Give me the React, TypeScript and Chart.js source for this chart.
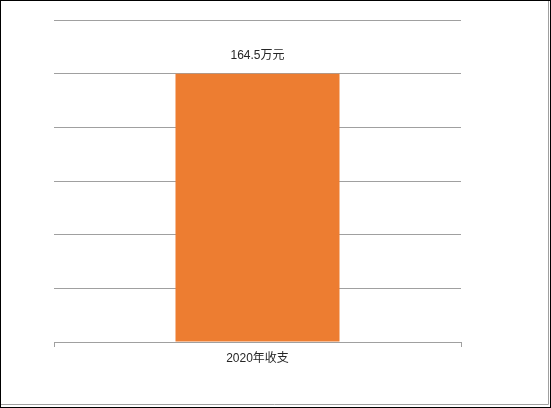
import React, { useEffect, useRef } from "react";
import { Chart, registerables } from "chart.js";

Chart.register(...registerables);

const categories: string[] = ["2020年收支"];
const values: number[] = [164.5];
const valueLabels: string[] = ["164.5万元"];
const yMax = 197.4;
const yStep = 32.9;

const FONT = "'Liberation Sans', 'Noto Sans CJK SC', sans-serif";

const framePlugin = {
  id: "frame",
  afterDraw(chart: any) {
    const ctx = chart.ctx;
    const w = chart.width;
    const h = chart.height;
    ctx.save();
    ctx.lineWidth = 1;
    ctx.strokeStyle = "#a0a0a0";
    ctx.beginPath();
    ctx.moveTo(w - 2.5, 0);
    ctx.lineTo(w - 2.5, h - 3.5);
    ctx.lineTo(0, h - 3.5);
    ctx.stroke();
    ctx.strokeStyle = "#000000";
    ctx.strokeRect(0.5, 0.5, w - 1, h - 1);
    ctx.restore();
  },
};

const labelPlugin = {
  id: "valueLabels",
  afterDatasetsDraw(chart: any) {
    const ctx = chart.ctx;
    const meta = chart.getDatasetMeta(0);
    ctx.save();
    ctx.fillStyle = "#262626";
    ctx.font = "12px " + FONT;
    ctx.textAlign = "center";
    ctx.textBaseline = "middle";
    meta.data.forEach((bar: any, i: number) => {
      ctx.fillText(valueLabels[i], bar.x, bar.y - 18);
    });
    ctx.restore();
  },
};

export default function App() {
  const ref = useRef<HTMLCanvasElement | null>(null);
  useEffect(() => {
    if (!ref.current) return;
    const chart = new Chart(ref.current, {
      type: "bar",
      data: {
        labels: categories,
        datasets: [
          {
            data: values,
            backgroundColor: "#ED7D31",
            borderWidth: 0,
            categoryPercentage: 1,
            barPercentage: 0.403,
          },
        ],
      },
      options: {
        animation: false,
        responsive: false,
        maintainAspectRatio: false,
        layout: { padding: { left: 54, right: 90, top: 20, bottom: 0 } },
        plugins: {
          legend: { display: false },
          tooltip: { enabled: false },
        },
        scales: {
          x: {
            offset: true,
            grid: {
              offset: true,
              drawOnChartArea: false,
              drawTicks: true,
              tickLength: 5,
              color: "#a0a0a0",
            },
            border: { display: true, color: "#a0a0a0" },
            ticks: {
              color: "#262626",
              font: { size: 12, family: FONT },
              padding: 4,
            },
            afterFit: (s: any) => {
              s.height = 66;
            },
          },
          y: {
            min: 0,
            max: yMax,
            ticks: { display: false, stepSize: yStep },
            grid: { color: "#a0a0a0", drawTicks: false },
            border: { display: false },
            afterFit: (s: any) => {
              s.width = 0;
            },
          },
        },
      },
      plugins: [labelPlugin, framePlugin],
    });
    return () => chart.destroy();
  }, []);
  return (
    <div style={{ position: "absolute", left: 0, top: 0, width: 551, height: 408, background: "#fff" }}>
      <canvas ref={ref} width={551} height={408} style={{ display: "block" }} />
    </div>
  );
}
